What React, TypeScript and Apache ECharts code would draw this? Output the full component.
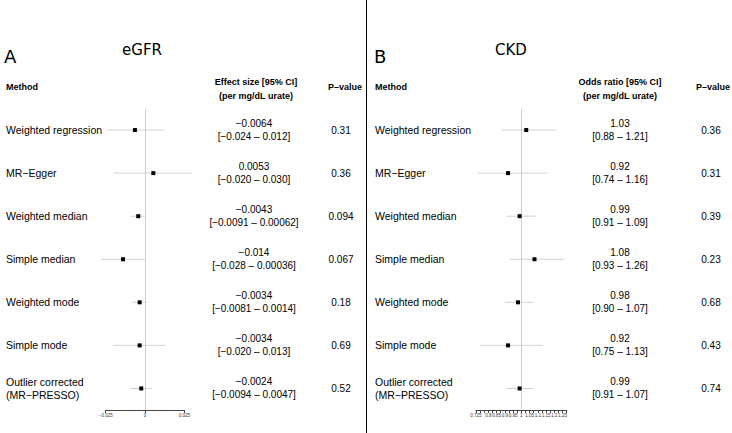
import React, { useEffect, useRef } from "react";
import * as echarts from "echarts";

// ---- data ----
const METHODS = [
  "Weighted regression",
  "MR-Egger",
  "Weighted median",
  "Simple median",
  "Weighted mode",
  "Simple mode",
  "Outlier corrected\n(MR-PRESSO)",
];

// Panel A: eGFR (effect size per mg/dL urate)
const EGFR_EST = ["-0.0064", "0.0053", "-0.0043", "-0.014", "-0.0034", "-0.0034", "-0.0024"];
const EGFR_LOW = ["-0.024", "-0.020", "-0.0091", "-0.028", "-0.0081", "-0.020", "-0.0094"];
const EGFR_HIGH = ["0.012", "0.030", "0.00062", "0.00036", "0.0014", "0.013", "0.0047"];
const EGFR_P = ["0.31", "0.36", "0.094", "0.067", "0.18", "0.69", "0.52"];
const EGFR_TICKS = [-0.025, 0, 0.025];

// Panel B: CKD (odds ratio per mg/dL urate)
const CKD_EST = ["1.03", "0.92", "0.99", "1.08", "0.98", "0.92", "0.99"];
const CKD_LOW = ["0.88", "0.74", "0.91", "0.93", "0.90", "0.75", "0.91"];
const CKD_HIGH = ["1.21", "1.16", "1.09", "1.26", "1.07", "1.13", "1.07"];
const CKD_P = ["0.36", "0.31", "0.39", "0.23", "0.68", "0.43", "0.74"];
const CKD_TICK_LABELS = [0.725, 0.8, 0.85, 0.9, 0.95, 1, 1.05, 1.1, 1.15, 1.2, 1.25];

const TXT_FONT = "'Liberation Sans', Arial, sans-serif";
const TITLE_FONT = "'DejaVu Sans', sans-serif";
const HDR_SIZE = 9;
const LABEL_SIZE = 10.5;
const VAL_SIZE = 10;

const minus = (s: string) => s.replace(/-/g, "\u2212");

function buildPanel(idx: number, cfg: any) {
  const data = cfg.est.map((e: string, i: number) => [Number(e), Number(cfg.low[i]), Number(cfg.high[i]), i]);
  return {
    type: "custom",
    xAxisIndex: idx,
    yAxisIndex: idx,
    clip: false,
    silent: true,
    encode: { x: 0, y: 3 },
    data,
    renderItem: (params: any, api: any) => {
      const i = params.dataIndex;
      const row = api.value(3);
      const pE = api.coord([api.value(0), row]);
      const pL = api.coord([api.value(1), row]);
      const pH = api.coord([api.value(2), row]);
      const pR = api.coord([cfg.ref, row]);
      const cs = params.coordSys;
      const y = pE[1];
      const txt = (text: string, x: number, yy: number, align: string, size: number) => ({
        type: "text",
        style: {
          text,
          x,
          y: yy,
          textAlign: align,
          textVerticalAlign: "middle",
          fontSize: size,
          fontFamily: TXT_FONT,
          fill: "#000",
          lineHeight: 13,
        },
      });
      const children: any[] = [];
      if (i === 0) {
        const rx = Math.round(pR[0]) + 0.5;
        children.push({
          type: "line",
          shape: { x1: rx, y1: cs.y, x2: rx, y2: cs.y + cs.height },
          style: { stroke: "#cfcfcf", lineWidth: 1 },
        });
      }
      children.push(
        {
          type: "line",
          shape: { x1: pL[0], y1: y, x2: pH[0], y2: y },
          style: { stroke: "#d0d0d0", lineWidth: 1 },
        },
        {
          type: "rect",
          shape: { x: pE[0] - 2, y: y - 2, width: 4, height: 4 },
          style: { fill: "#000" },
        },
        txt(minus(METHODS[i]), cfg.methodX, y, "left", LABEL_SIZE),
        txt(minus(cfg.est[i]), cfg.valX, y - 6.5, "center", VAL_SIZE),
        txt("[" + minus(cfg.low[i]) + " \u2013 " + minus(cfg.high[i]) + "]", cfg.valX, y + 6.5, "center", VAL_SIZE),
        txt(cfg.p[i], cfg.pX, y, "center", VAL_SIZE)
      );
      return { type: "group", children };
    },
  };
}

export default function App() {
  const ref = useRef<HTMLDivElement>(null);
  useEffect(() => {
    document.body.style.margin = "0";
    const chart = echarts.init(ref.current!, null, { renderer: "svg" });
    const A = {
      est: EGFR_EST, low: EGFR_LOW, high: EGFR_HIGH, p: EGFR_P,
      methodX: 6, valX: 254, pX: 341, ref: 0,
    };
    const B = {
      est: CKD_EST, low: CKD_LOW, high: CKD_HIGH, p: CKD_P,
      methodX: 375, valX: 620, pX: 711, ref: 1,
    };
    const axisCommon = {
      type: "value",
      axisLine: { show: true, lineStyle: { color: "#444", width: 1 } },
      axisTick: { show: true, length: 3, lineStyle: { color: "#444" } },
      splitLine: { show: false },
    };
    const hdr = (text: string, x: number, y: number, align: string) => ({
      type: "text",
      x,
      y,
      style: {
        text,
        textAlign: align,
        textVerticalAlign: "middle",
        fontSize: HDR_SIZE,
        fontWeight: "bold",
        fontFamily: TXT_FONT,
        fill: "#000",
      },
    });
    const big = (text: string, x: number, y: number, size: number, align: string) => ({
      type: "text",
      x,
      y,
      style: {
        text,
        textAlign: align,
        textVerticalAlign: "middle",
        fontSize: size,
        fontFamily: TITLE_FONT,
        fill: "#000",
      },
    });
    chart.setOption({
      animation: false,
      backgroundColor: "#fff",
      grid: [
        { left: 105.7, width: 78.6, top: 108.5, bottom: 23 },
        { left: 475.9, width: 90.75, top: 108.5, bottom: 23 },
      ],
      xAxis: [
        {
          ...axisCommon,
          gridIndex: 0,
          min: -0.025,
          max: 0.025,
          interval: 0.025,
          axisLabel: {
            fontSize: 4.5,
            color: "#333",
            margin: 3,
            fontFamily: TXT_FONT,
            formatter: (v: number) => {
              const r = Math.round(v * 1000) / 1000;
              return EGFR_TICKS.includes(r) ? minus(String(r)) : "";
            },
          },
        },
        {
          ...axisCommon,
          gridIndex: 1,
          min: 0.725,
          max: 1.275,
          interval: 0.025,
          axisLabel: {
            fontSize: 4.5,
            color: "#333",
            margin: 3,
            fontFamily: TXT_FONT,
            showMinLabel: true,
            hideOverlap: false,
            formatter: (v: number) => {
              const r = Math.round(v * 1000) / 1000;
              return CKD_TICK_LABELS.includes(r) ? String(r) : "";
            },
          },
        },
      ],
      yAxis: [
        { type: "category", gridIndex: 0, data: METHODS, inverse: true, show: false },
        { type: "category", gridIndex: 1, data: METHODS, inverse: true, show: false },
      ],
      graphic: [
        {
          type: "line",
          shape: { x1: 366.5, y1: 0, x2: 366.5, y2: 433 },
          style: { stroke: "#000", lineWidth: 1 },
        },
        big("A", 4, 56, 18, "left"),
        big("eGFR", 142, 50, 15, "center"),
        hdr("Method", 6, 87, "left"),
        hdr("Effect size [95% CI]", 256, 82, "center"),
        hdr("(per mg/dL urate)", 256, 96, "center"),
        hdr("P\u2013value", 345, 87, "center"),
        big("B", 374, 56, 18, "left"),
        big("CKD", 511, 50, 15, "center"),
        hdr("Method", 375, 87, "left"),
        hdr("Odds ratio [95% CI]", 620, 82, "center"),
        hdr("(per mg/dL urate)", 620, 96, "center"),
        hdr("P\u2013value", 713, 87, "center"),
      ],
      series: [buildPanel(0, A), buildPanel(1, B)],
    });
    return () => chart.dispose();
  }, []);
  return <div ref={ref} style={{ position: "fixed", left: 0, top: 0, width: 732, height: 433 }} />;
}
